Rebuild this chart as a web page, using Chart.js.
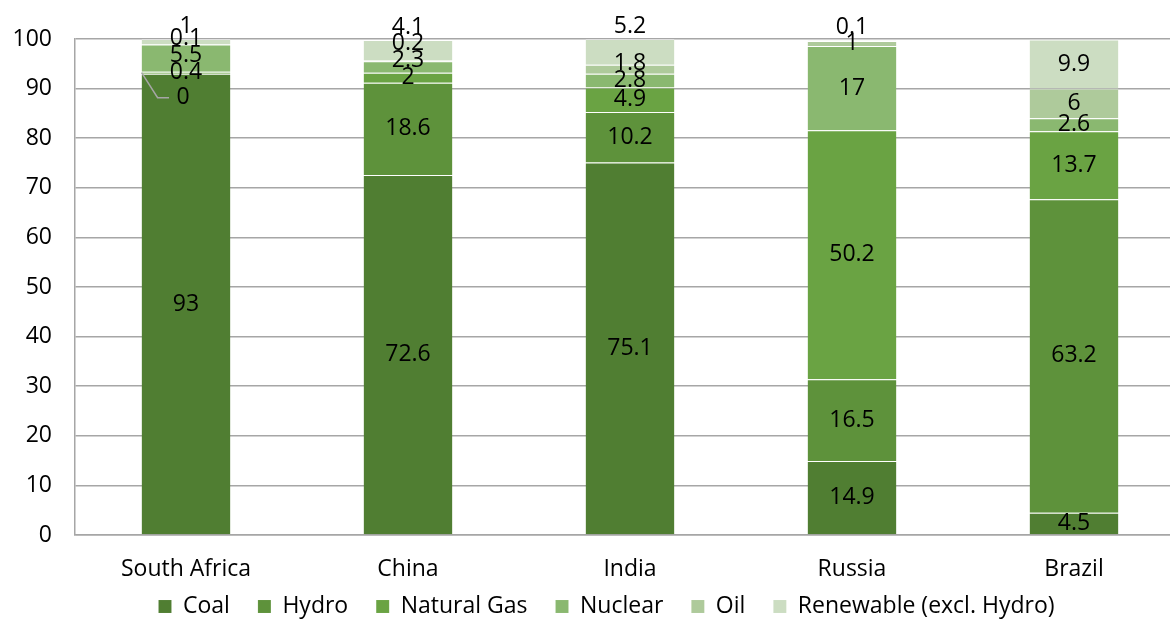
<!DOCTYPE html>
<html>
<head>
<meta charset="utf-8">
<script src="https://cdn.jsdelivr.net/npm/chart.js@4"></script>
<style>
  html, body { margin: 0; padding: 0; background: #fff; overflow: hidden; }
  #wrap { width: 1214px; height: 623px; }
</style>
</head>
<body>
<div id="wrap"><canvas id="myChart" width="1214" height="623"></canvas></div>
<script>
// share of electricity generation by source (%)
const countries = ['South Africa', 'China', 'India', 'Russia', 'Brazil'];
const coal      = [93,   72.6, 75.1, 14.9, 4.5];
const hydro     = [0,    18.6, 10.2, 16.5, 63.2];
const naturalGas= [0.4,  2,    4.9,  50.2, 13.7];
const nuclear   = [5.5,  2.3,  2.8,  17,   2.6];
const oil       = [0.1,  0.2,  1.8,  1,    6];
const renewable = [1,    4.1,  5.2,  0.1,  9.9];
const yTicks    = [0, 10, 20, 30, 40, 50, 60, 70, 80, 90, 100];

const fontFamily = '"Open Sans", sans-serif';
const fontSize = 23;

// legend: short box in the layout, then nudged up/right when drawn
const legendFit = {
  id: 'legendFit',
  beforeLayout(chart) {
    const lg = chart.legend;
    if (lg && !lg._fixed) {
      const fit = lg.fit;
      lg.fit = function () { fit.call(this); this.height = 38; };
      lg._fixed = true;
    }
  },
  afterLayout(chart) {
    const lg = chart.legend;
    lg.top -= 18;
    lg.left += 14;
    lg.right += 14;
  }
};

// draws the value labels in the middle of each segment, pushing crowded ones up
const segmentLabels = {
  id: 'segmentLabels',
  afterDatasetsDraw(chart) {
    const ctx = chart.ctx;
    const gap = 17;
    ctx.save();
    ctx.font = fontSize + 'px ' + fontFamily;
    ctx.fillStyle = '#000';
    ctx.textAlign = 'center';
    ctx.textBaseline = 'middle';
    countries.forEach((c, i) => {
      const n = chart.data.datasets.length;
      let lastY = Infinity;
      let topIdx = -1;
      for (let k = 0; k < n; k++) if (chart.data.datasets[k].data[i] !== 0) topIdx = k;
      for (let k = 0; k < n; k++) {
        const val = chart.data.datasets[k].data[i];
        const bar = chart.getDatasetMeta(k).data[i];
        const center = (bar.y + bar.base) / 2;
        if (val === 0) {
          // zero value: label pulled out with a leader line
          const lx = bar.x - 3, ly = bar.y + 24;
          const left = bar.x - bar.width / 2;
          ctx.strokeStyle = '#A6A6A6';
          ctx.lineWidth = 1.5;
          ctx.beginPath();
          ctx.moveTo(left, bar.y - 1);
          ctx.lineTo(left + 16, ly);
          ctx.lineTo(lx - 14, ly);
          ctx.stroke();
          ctx.fillText('0', lx, ly);
          continue;
        }
        let cy = Math.min(center, lastY - gap);
        if (k === topIdx && cy < center - 0.5) {
          cy = bar.y - 13;
        }
        ctx.fillText(String(val), bar.x, cy);
        lastY = cy;
      }
    });
    ctx.restore();
  }
};

function createChart() {
  const ctx = document.getElementById('myChart');
  const border = 'rgba(255,255,255,0.3)';
  const mk = (label, data, color) => ({
    label: label,
    data: data,
    backgroundColor: color,
    borderColor: border,
    borderWidth: { top: 1, left: 0, right: 0, bottom: 0 },
    borderSkipped: false,
    categoryPercentage: 1,
    barPercentage: 0.4
  });
  new Chart(ctx, {
    type: 'bar',
    data: {
      labels: countries,
      datasets: [
        mk('Coal', coal, '#507E32'),
        mk('Hydro', hydro, '#5E923B'),
        mk('Natural Gas', naturalGas, '#6AA343'),
        mk('Nuclear', nuclear, '#8AB870'),
        mk('Oil', oil, '#AECA9B'),
        mk('Renewable (excl. Hydro)', renewable, '#CCDDC2')
      ]
    },
    options: {
      responsive: false,
      animation: false,
      devicePixelRatio: 1,
      layout: { padding: { top: 39, right: 29, left: 0, bottom: 0 } },
      scales: {
        x: {
          stacked: true,
          afterFit: (scale) => { scale.height = 50; },
          grid: { display: false, drawTicks: false },
          border: { color: '#A6A6A6', width: 1.5 },
          ticks: { color: '#000', padding: 21, font: { family: fontFamily, size: fontSize } }
        },
        y: {
          stacked: true,
          min: 0,
          max: 100,
          afterBuildTicks: (scale) => { scale.ticks = yTicks.map(v => ({ value: v })); },
          afterFit: (scale) => { scale.width = 75; },
          grid: { color: '#A6A6A6', lineWidth: 1.5, drawTicks: false },
          border: { color: '#A6A6A6', width: 1.5 },
          ticks: { color: '#000', padding: 23, font: { family: fontFamily, size: fontSize } }
        }
      },
      plugins: {
        tooltip: { enabled: false },
        legend: {
          position: 'bottom',
          labels: {
            color: '#000',
            boxWidth: 13,
            boxHeight: 13,
            padding: 28,
            font: { family: fontFamily, size: fontSize }
          }
        }
      }
    },
    plugins: [legendFit, segmentLabels]
  });
}

createChart();
</script>
</body>
</html>
